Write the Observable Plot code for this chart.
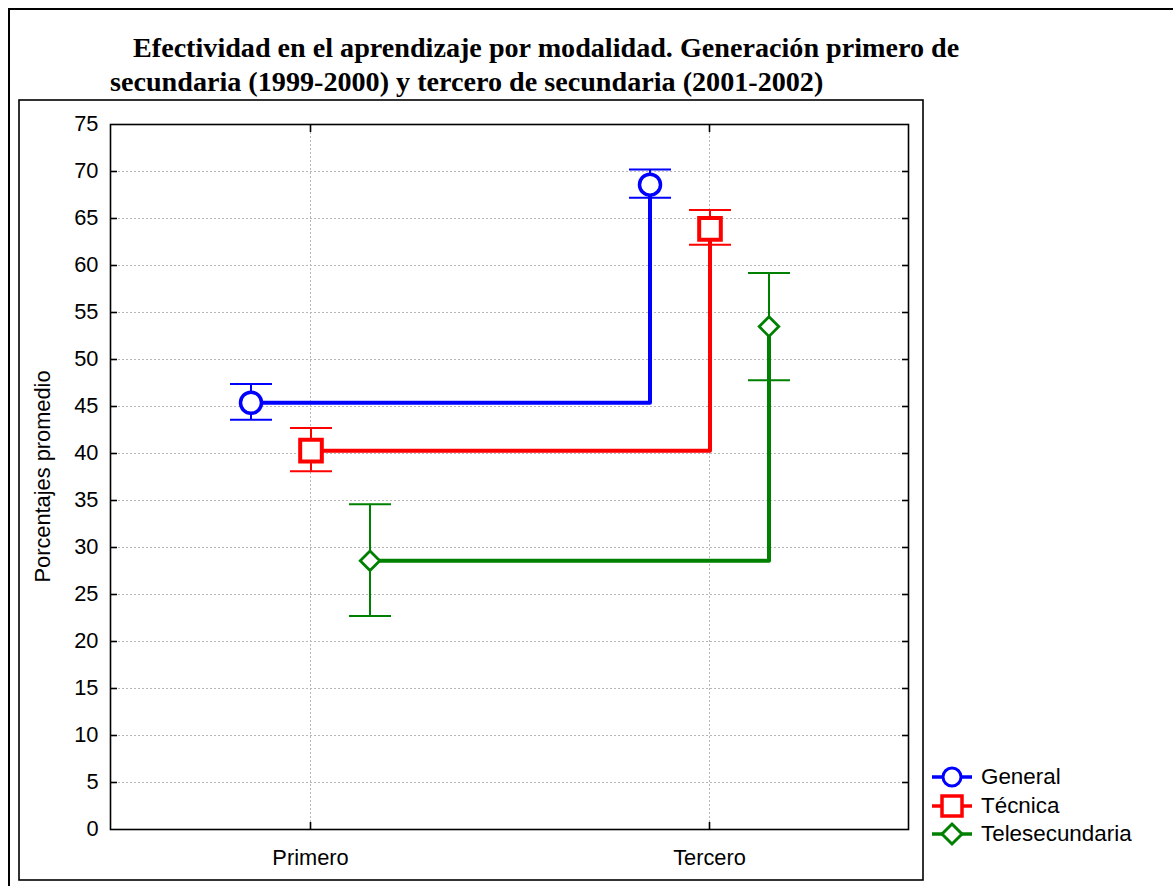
<!DOCTYPE html>
<html><head><meta charset="utf-8">
<script src="https://cdn.jsdelivr.net/npm/d3@7"></script>
<script src="https://cdn.jsdelivr.net/npm/@observablehq/plot@0.6"></script>
<style>
html,body{margin:0;padding:0;background:#fff;}
#wrap{position:relative;width:1173px;height:886px;overflow:hidden;background:#fff;}
#wrap svg{position:absolute;left:0;top:0;}
</style></head><body><div id="wrap"></div>
<script>
// ---- data ----
const categories = ["Primero", "Tercero"];
const series = ["General", "Técnica", "Telesecundaria"];
const generalMean  = [45.4, 68.6];
const generalUpper = [47.4, 70.2];
const generalLower = [43.6, 67.2];
const tecnicaMean  = [40.3, 63.9];
const tecnicaUpper = [42.7, 65.9];
const tecnicaLower = [38.1, 62.2];
const teleMean  = [28.6, 53.5];
const teleUpper = [34.6, 59.2];
const teleLower = [22.7, 47.8];
const yTicks = [0, 5, 10, 15, 20, 25, 30, 35, 40, 45, 50, 55, 60, 65, 70, 75];
const titleLines = ["Efectividad en el aprendizaje por modalidad. Generación primero de",
                    "secundaria (1999-2000) y tercero de secundaria (2001-2002)"];
const yLabel = "Porcentajes promedio";

// ---- table ----
const seriesValues = {
  "General": [generalMean, generalUpper, generalLower],
  "Técnica": [tecnicaMean, tecnicaUpper, tecnicaLower],
  "Telesecundaria": [teleMean, teleUpper, teleLower]
};
const rows = [];
for (const s of series) {
  const [m, u, l] = seriesValues[s];
  categories.forEach((c, j) => rows.push({series: s, cat: c, mean: m[j], upper: u[j], lower: l[j]}));
}

// ---- styles ----
const styles = {
  "General":        {color: "#0000ff", symbol: "circle",   r: 10.5, sw: 3.5, dx: -59.5},
  "Técnica":        {color: "#ff0000", symbol: "square",   r: 12.2, sw: 4,   dx: 0.5},
  "Telesecundaria": {color: "#008000", symbol: "diamond2", r: 8.8,  sw: 2.8, dx: 59.5}
};
const capSymbol = {draw(ctx) { ctx.moveTo(-21, 0); ctx.lineTo(21, 0); }};
const sans = "'Liberation Sans', Arial, sans-serif";
const fs = 21.8;

const seriesMarks = [];
for (const s of series) {
  const st = styles[s];
  const d = rows.filter(r => r.series === s);
  seriesMarks.push(
    Plot.line(d, {x: "cat", y: "mean", curve: "step-after", stroke: st.color, strokeWidth: 4, dx: st.dx}),
    Plot.ruleX(d, {x: "cat", y1: "lower", y2: "upper", stroke: st.color, strokeWidth: 2, dx: st.dx}),
    Plot.dot(d, {x: "cat", y: "upper", symbol: capSymbol, fill: "none", stroke: st.color, strokeWidth: 2, dx: st.dx}),
    Plot.dot(d, {x: "cat", y: "lower", symbol: capSymbol, fill: "none", stroke: st.color, strokeWidth: 2, dx: st.dx})
  );
}
for (const s of series) {
  const st = styles[s];
  const d = rows.filter(r => r.series === s);
  seriesMarks.push(
    Plot.dot(d, {x: "cat", y: "mean", symbol: st.symbol, r: st.r, fill: "white", stroke: st.color, strokeWidth: st.sw, dx: st.dx})
  );
}

const gridStyle = {stroke: "#b8b8b8", strokeOpacity: 1, strokeWidth: 1, strokeDasharray: "2,2"};
const inner = yTicks.slice(1, -1);

const chart = Plot.plot({
  width: 1173, height: 886,
  marginTop: 124, marginRight: 265, marginBottom: 57, marginLeft: 110,
  style: {fontFamily: sans, fontSize: fs + "px", color: "black", background: "transparent", overflow: "visible"},
  x: {type: "point", domain: categories, padding: 0.5, label: null},
  y: {domain: [0, 75], label: null},
  marks: [
    Plot.gridY(inner, gridStyle),
    Plot.gridX(categories, gridStyle),
    Plot.axisY(yTicks, {anchor: "left", tickSize: 0, tickPadding: 12, label: null, fontSize: fs}),
    Plot.axisY(inner, {anchor: "left", tickSize: 7, dx: 7, tickFormat: () => "", label: null, strokeWidth: 1.6}),
    Plot.axisY(inner, {anchor: "right", tickSize: 7, dx: -7, tickFormat: () => "", label: null, strokeWidth: 1.6}),
    Plot.axisX(categories, {anchor: "bottom", tickSize: 0, tickPadding: 20, label: null, fontSize: fs}),
    Plot.axisX(categories, {anchor: "bottom", tickSize: 7, dy: -7, tickFormat: () => "", label: null, strokeWidth: 1.6}),
    Plot.axisX(categories, {anchor: "top", tickSize: 7, dy: 7, tickFormat: () => "", label: null, strokeWidth: 1.6}),
    ...seriesMarks,
    Plot.frame({stroke: "black", strokeWidth: 1.6})
  ]
});

// ---- overlay: borders, title, y label, legend ----
const ns = "http://www.w3.org/2000/svg";
const ov = d3.create("svg").attr("xmlns", ns).attr("width", 1173).attr("height", 886)
  .style("font-family", sans);
ov.append("rect").attr("x", 9).attr("y", 9).attr("width", 1300).attr("height", 1000)
  .attr("fill", "none").attr("stroke", "black").attr("stroke-width", 2);
ov.append("rect").attr("x", 19).attr("y", 100).attr("width", 904).attr("height", 780)
  .attr("fill", "none").attr("stroke", "black").attr("stroke-width", 1.6);
const tpos = [[133, 57], [110, 91]];
titleLines.forEach((t, i) => {
  ov.append("text").attr("x", tpos[i][0]).attr("y", tpos[i][1])
    .attr("font-family", "'Liberation Serif', 'Times New Roman', serif")
    .attr("font-weight", "bold").attr("font-size", 28.15).attr("fill", "black").text(t);
});
ov.append("text").attr("transform", "translate(50,476.5) rotate(-90)")
  .attr("text-anchor", "middle").attr("font-size", fs).attr("fill", "black").text(yLabel);

const legendY = [777, 806, 834];
const legendSym = {
  "General": {type: d3.symbolCircle, size: Math.PI * 9 * 9, sw: 3},
  "Técnica": {type: d3.symbolSquare, size: 20 * 20, sw: 3.5},
  "Telesecundaria": {type: d3.symbolDiamond2, size: Math.pow(10 / 0.62625, 2), sw: 3}
};
series.forEach((s, i) => {
  const y = legendY[i], col = styles[s].color, ls = legendSym[s];
  ov.append("line").attr("x1", 932).attr("x2", 972).attr("y1", y).attr("y2", y)
    .attr("stroke", col).attr("stroke-width", 3.5);
  ov.append("path").attr("transform", `translate(952,${y})`)
    .attr("d", d3.symbol(ls.type, ls.size)()).attr("fill", "white")
    .attr("stroke", col).attr("stroke-width", ls.sw);
  ov.append("text").attr("x", 981).attr("y", y + 7).attr("font-size", 22.4).attr("fill", "black").text(s);
});

const wrap = document.getElementById("wrap");
wrap.appendChild(ov.node());
wrap.appendChild(chart);
</script></body></html>
